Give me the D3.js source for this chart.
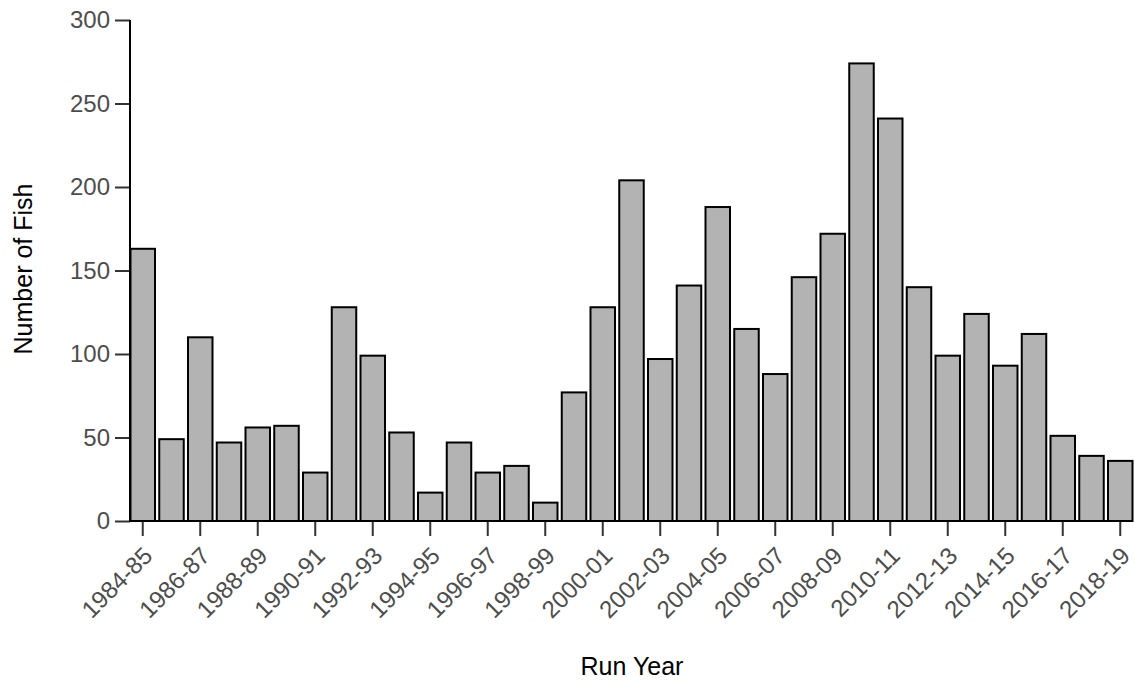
<!DOCTYPE html>
<html>
<head>
<meta charset="utf-8">
<script src="https://cdn.jsdelivr.net/npm/d3@7"></script>
<style>
  html, body { margin: 0; padding: 0; background: #fff; }
  svg { display: block; }
  text { font-family: "Liberation Sans", Arial, sans-serif; }
</style>
</head>
<body>
<svg id="chart" width="1135" height="684"></svg>
<script>
const runYears = ["1984-85","1985-86","1986-87","1987-88","1988-89","1989-90","1990-91","1991-92","1992-93","1993-94",
  "1994-95","1995-96","1996-97","1997-98","1998-99","1999-00","2000-01","2001-02","2002-03","2003-04",
  "2004-05","2005-06","2006-07","2007-08","2008-09","2009-10","2010-11","2011-12","2012-13","2013-14",
  "2014-15","2015-16","2016-17","2017-18","2018-19"];
const fishCounts = [163,49,110,47,56,57,29,128,99,53,
  17,47,29,33,11,77,128,204,97,141,
  188,115,88,146,172,274,241,140,99,124,
  93,112,51,39,36];
const yTicks = [0,50,100,150,200,250,300];
const xTickLabels = runYears.filter((d, i) => i % 2 === 0);

const svg = d3.select("#chart");
const axisX0 = 130, baseY = 521, topY = 20;
const tickFont = "24px", titleFont = "25px";
const fam = '"Liberation Sans", Arial, sans-serif';

const x = d3.scaleBand().domain(runYears).range([130.5, 1132.5]).paddingInner(0.148).paddingOuter(0);
const y = d3.scaleLinear().domain([0, 300]).range([baseY, topY]);

// bars
svg.append("g").selectAll("rect").data(runYears).join("rect")
  .attr("x", d => x(d))
  .attr("y", (d, i) => y(fishCounts[i]))
  .attr("width", x.bandwidth())
  .attr("height", (d, i) => y(0) - y(fishCounts[i]))
  .attr("fill", "#b3b3b3")
  .attr("stroke", "#000")
  .attr("stroke-width", 2);

// y axis
const yAxis = svg.append("g").attr("transform", `translate(${axisX0},0)`)
  .call(d3.axisLeft(y).tickValues(yTicks).tickSize(15).tickPadding(5));
yAxis.select(".domain").remove();
yAxis.selectAll(".tick line").attr("stroke", "#333").attr("stroke-width", 2);
yAxis.selectAll(".tick text").attr("fill", "#4d4d4d").style("font-size", tickFont)
  .style("font-family", fam);

// x axis
const xAxis = svg.append("g").attr("transform", `translate(0,${baseY})`)
  .call(d3.axisBottom(x).tickValues(xTickLabels).tickSize(15).tickPadding(0));
xAxis.select(".domain").remove();
xAxis.selectAll(".tick line").attr("stroke", "#333").attr("stroke-width", 2);
xAxis.selectAll(".tick text")
  .attr("fill", "#4d4d4d").style("font-size", tickFont)
  .style("font-family", fam)
  .attr("text-anchor", "end")
  .attr("y", 0).attr("dy", "0.72em")
  .attr("transform", "translate(-1,24) rotate(-45)");

// axis lines
svg.append("line").attr("x1", axisX0).attr("x2", axisX0).attr("y1", y(300)).attr("y2", baseY + 1)
  .attr("stroke", "#000").attr("stroke-width", 2);
svg.append("line").attr("x1", axisX0 - 1).attr("x2", 1133).attr("y1", baseY).attr("y2", baseY)
  .attr("stroke", "#000").attr("stroke-width", 2);

// titles
svg.append("text").attr("x", 632).attr("y", 675).attr("text-anchor", "middle")
  .style("font-size", titleFont).attr("fill", "#000").text("Run Year");
svg.append("text").attr("transform", "translate(32,269) rotate(-90)").attr("text-anchor", "middle")
  .style("font-size", titleFont).attr("fill", "#000").text("Number of Fish");
</script>
</body>
</html>
